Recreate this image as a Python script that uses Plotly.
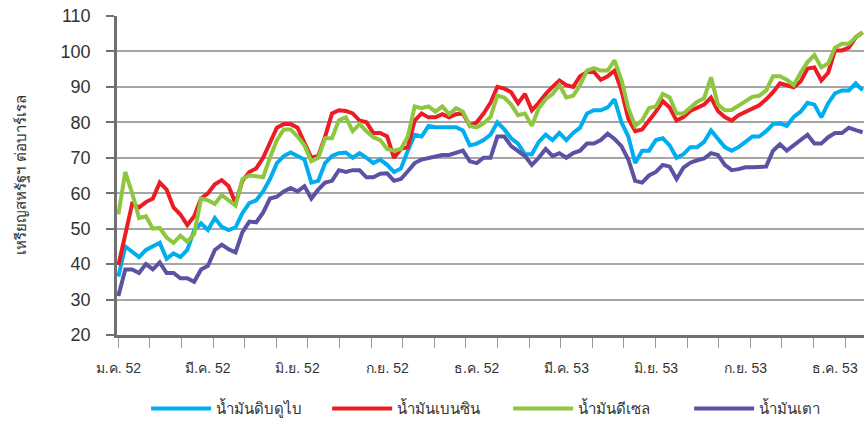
import plotly.graph_objects as go

# weekly prices, USD/barrel
dubai = [36.5, 45, 43.5, 42, 44, 45, 46, 41.5, 43, 42, 44, 49.5, 51.5, 49.6, 53, 50.5, 49.6, 50.4, 54.4, 57.2,
         58, 60.5, 64, 68.5, 70.5, 71.5, 70.5, 69.5, 63, 63.5, 68.5, 70.5, 71.3, 71.5, 70, 71.3, 70, 68.5, 69.5, 68,
         66, 67, 72, 76.5, 76, 79, 78.6, 78.6, 78.6, 78.6, 77.7, 73.5, 74, 75, 76.5, 80, 78, 75.5, 74, 71,
         71, 74.5, 76.5, 75, 77, 75, 77, 78.5, 82.5, 83.4, 83.4, 84.2, 86.5, 80, 76, 68.5, 72, 72, 75, 75.5,
         73.5, 70, 71, 73, 73, 74.5, 77.7, 75.5, 73, 72, 73, 74.5, 76, 76, 77.5, 79.5, 79.7, 79, 81.5, 83,
         85.5, 85, 81.4, 85.4, 88.2, 89, 89, 91, 89]
benzin = [39.7, 49, 57, 56, 57.5, 58.5, 63, 61, 56, 54, 51, 53.5, 58.5, 60, 62.5, 63.7, 62, 57.2, 63.5, 66,
          67, 70, 74.5, 78.5, 79.5, 79.5, 78.5, 74, 70, 70.5, 76, 82.5, 83.4, 83.2, 82.5, 80.5, 80, 77, 77, 76,
          70, 72.5, 73, 80.5, 82.5, 81.4, 81.4, 82.3, 81.4, 82.3, 82.5, 79, 80, 82.5, 85.5, 90, 89.5, 88.5, 85.4, 88,
          83.4, 85.5, 88, 90, 91.8, 90.5, 90, 93, 94.2, 94.2, 92, 93, 94.6, 89, 81, 77.5, 78, 80.5, 83, 86,
          84.2, 80.5, 81.5, 83.2, 84, 85, 87, 83.2, 81.5, 80.5, 82, 83, 83.8, 84.8, 86.5, 88.5, 91, 90.5, 89.9, 91.5,
          95.2, 95.5, 91.8, 94, 100.3, 100.3, 101.1, 104, 105.4]
diesel = [54, 66, 60, 53, 53.5, 50, 50.2, 47.5, 46, 48, 46.3, 48.5, 58.5, 58, 57, 59.5, 58, 56.5, 64, 65,
          64.8, 64.5, 70, 75, 78, 78, 76, 73.5, 69, 70, 75.5, 75.5, 80.6, 81.4, 77.5, 79.5, 77.5, 75.8, 75, 72.5,
          72, 72.5, 76, 84.5, 84, 84.5, 83, 84.5, 82.3, 84, 83, 79, 78.6, 79.7, 81.5, 87.5, 87, 85, 82, 82.5,
          79, 84, 86.5, 88, 90.5, 87, 87.5, 90.5, 94.6, 95.3, 94.6, 94.6, 97.5, 92, 84, 79, 80.6, 84, 84.5, 88,
          87, 82.5, 82.5, 84, 85.8, 86.8, 92.7, 85, 83.4, 83.5, 84.8, 85.8, 87.2, 87.5, 89, 93, 93, 92, 90.5, 94,
          97, 99, 95.5, 96.6, 101.1, 102.2, 102.2, 104, 105.4]
fueloil = [31, 38.5, 38.5, 37.5, 40, 38.5, 40.5, 37.5, 37.5, 36, 36, 35, 38.5, 39.5, 44, 45.5, 44.2, 43.3, 49, 52,
           51.8, 54.5, 58.5, 59, 60.5, 61.5, 60.5, 62, 58.5, 61, 63, 63.5, 66.5, 66, 66.5, 66.5, 64.5, 64.5, 65.5, 65.6,
           63.5, 64, 66.2, 68.5, 69.5, 70, 70.5, 70.8, 70.8, 71.5, 72, 69, 68.5, 70, 70, 76, 76, 73.3, 71.8, 70.5,
           68, 70, 72.5, 70.5, 71.3, 70, 71.3, 72, 74, 74, 75, 76.8, 75.3, 73.3, 69.5, 63.5, 63, 65, 66, 68,
           67.5, 64, 67.2, 68.6, 69.3, 69.8, 71.3, 70.8, 68, 66.5, 66.8, 67.3, 67.3, 67.5, 67.5, 72, 73.8, 72, 73.5, 75,
           76.5, 74, 74, 75.8, 77, 77, 78.5, 77.8, 77.2]

tick_labels = ["ม.ค. 52", "มี.ค. 52", "มิ.ย. 52", "ก.ย. 52", "ธ.ค. 52",
               "มี.ค. 53", "มิ.ย. 53", "ก.ย. 53", "ธ.ค. 53"]
label_every = 13          # points between labels
points_per_month = 4.585  # monthly tick marks

series = [
    ("น้ำมันดิบดูไบ", dubai, "#00AEEF"),
    ("น้ำมันเบนซิน", benzin, "#ED1C24"),
    ("น้ำมันดีเซล", diesel, "#8DC63F"),
    ("น้ำมันเตา", fueloil, "#5A53A3"),
]

FONT = "Liberation Sans, Arial, sans-serif"
x = list(range(len(dubai)))

fig = go.Figure()
for name, vals, col in series:
    fig.add_trace(go.Scatter(x=x, y=vals, name=name, mode="lines",
                             line=dict(color=col, width=4)))

fig.update_layout(
    width=867, height=430,
    margin=dict(l=117, r=3, t=15.5, b=95, autoexpand=False),
    paper_bgcolor="white",
    plot_bgcolor="white",
    font=dict(family=FONT, color="#333"),
    legend=dict(orientation="h", x=0.039, xanchor="left",
                y=-0.231, yanchor="middle",
                itemwidth=60,
                entrywidth=106, entrywidthmode="pixels",
                font=dict(size=15, color="#333")),
    xaxis=dict(
        range=[-0.2, len(dubai) - 0.8],
        tickmode="array",
        tickvals=list(range(0, len(dubai), label_every)),
        ticktext=tick_labels,
        ticks="outside", ticklen=10, tickcolor="rgba(0,0,0,0)",
        ticklabelstandoff=8,
        tickfont=dict(size=14, color="#333"),
        showgrid=False, zeroline=False,
        showline=True, linecolor="#707070", linewidth=2.5,
        minor=dict(tickmode="linear", tick0=0, dtick=points_per_month,
                   ticks="outside", ticklen=10, tickcolor="#999", tickwidth=1),
    ),
    yaxis=dict(
        range=[20, 110], dtick=10,
        ticks="outside", ticklen=8, tickcolor="#707070", tickwidth=2,
        ticklabelstandoff=12,
        tickfont=dict(size=18, color="#333"),
        showgrid=True, gridcolor="#A6A6A6", gridwidth=1.5,
        zeroline=False,
        showline=True, linecolor="#707070", linewidth=2.5,
    ),
    annotations=[dict(
        text="เหรียญสหรัฐฯ ต่อบาร์เรล", textangle=-90,
        xref="paper", yref="paper", x=(20 - 117) / 747, y=0.5,
        xanchor="center", yanchor="middle", showarrow=False,
        font=dict(size=15, color="#333"),
    )],
)

# drop the default 8px body margin so the figure fills the window
fig.write_html("out.html", config={"displayModeBar": False},
               post_script="document.body.style.margin='0';")
